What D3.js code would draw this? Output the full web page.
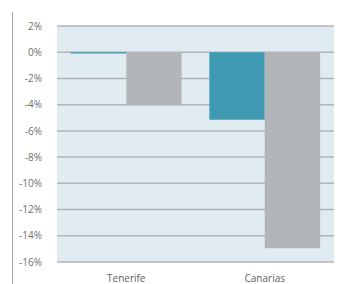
<!DOCTYPE html>
<html>
<head>
<meta charset="utf-8">
<script src="https://cdn.jsdelivr.net/npm/d3@7"></script>
<style>
  html, body { margin: 0; padding: 0; background: #fff; }
</style>
</head>
<body>
<div></div>
<script>
const WIDTH = 340;
const HEIGHT = 284;
const categories = ['Tenerife', 'Canarias'];
const series = ['s1', 's2'];
const seriesA = [-0.1, -5.15];
const seriesB = [-4.05, -14.95];
const yTicks = [2, 0, -2, -4, -6, -8, -10, -12, -14, -16];
const colors = ['#3f9ab3', '#b3b6b8'];

const margin = { top: 26, right: 6, bottom: 22, left: 57 };

const svg = d3.select('div').append('svg')
    .attr('width', WIDTH)
    .attr('height', HEIGHT)
    .style('font-family', '"Open Sans", sans-serif');

// left frame line
svg.append('line')
    .attr('x1', 12.5).attr('x2', 12.5)
    .attr('y1', 12).attr('y2', HEIGHT)
    .attr('stroke', '#a8a8a8')
    .attr('stroke-width', 1);

const x = d3.scaleBand()
    .domain(categories)
    .range([margin.left, WIDTH - margin.right])
    .paddingInner(0.2)
    .paddingOuter(0.1);

const xInner = d3.scaleBand()
    .domain(series)
    .range([0, x.bandwidth()]);

const y = d3.scaleLinear()
    .domain([-16, 2])
    .range([HEIGHT - margin.bottom, margin.top]);

// plot background
svg.append('rect')
    .attr('x', margin.left)
    .attr('y', y(2))
    .attr('width', WIDTH - margin.right - margin.left)
    .attr('height', y(-16) - y(2))
    .attr('fill', '#e1ebf2');

// gridlines
svg.append('g')
    .selectAll('line')
    .data(yTicks)
    .join('line')
    .attr('x1', margin.left)
    .attr('x2', WIDTH - margin.right)
    .attr('y1', d => y(d))
    .attr('y2', d => y(d))
    .attr('stroke', '#b1b4b6')
    .attr('stroke-width', 1.5);

// y axis labels
const yAxis = svg.append('g')
    .attr('transform', 'translate(' + (margin.left - 12) + ',0)')
    .call(d3.axisLeft(y).tickValues(yTicks).tickSize(0).tickFormat(d => d + '%'));
yAxis.select('.domain').remove();
yAxis.selectAll('text')
    .attr('fill', '#707070')
    .attr('font-size', 10)
    .attr('font-family', '"Open Sans", sans-serif');

// bars
const rows = categories.map((c, i) => ({ cat: c, vals: [seriesA[i], seriesB[i]] }));
const groups = svg.append('g')
    .selectAll('g')
    .data(rows)
    .join('g')
    .attr('transform', d => 'translate(' + x(d.cat) + ',0)');

groups.selectAll('rect')
    .data(d => d.vals.map((v, j) => ({ key: series[j], v: v, j: j })))
    .join('rect')
    .attr('x', d => xInner(d.key))
    .attr('width', xInner.bandwidth())
    .attr('y', d => y(Math.max(0, d.v)))
    .attr('height', d => Math.abs(y(d.v) - y(0)))
    .attr('fill', d => colors[d.j]);

// x axis labels
const xAxis = svg.append('g')
    .attr('transform', 'translate(0,' + (HEIGHT - margin.bottom + 10) + ')')
    .call(d3.axisBottom(x).tickSize(0));
xAxis.select('.domain').remove();
xAxis.selectAll('text')
    .attr('fill', '#606060')
    .attr('font-size', 10)
    .attr('font-family', '"Open Sans", sans-serif');
</script>
</body>
</html>
